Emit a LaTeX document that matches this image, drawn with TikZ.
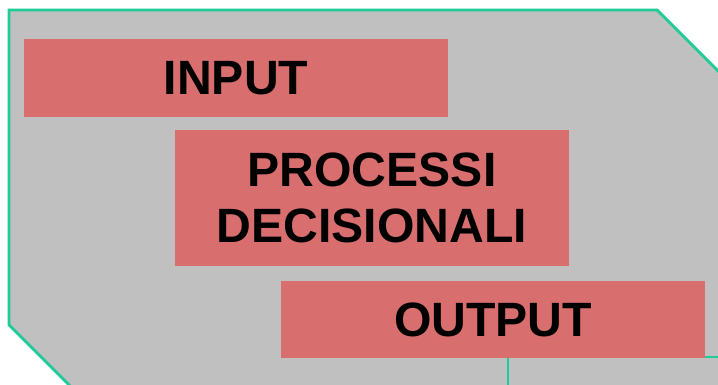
\documentclass[tikz,border=0pt]{standalone}
\usepackage{fontspec}
\setmainfont{Liberation Sans}
\definecolor{grigio}{HTML}{C0C0C0}
\definecolor{rosso}{HTML}{D86E6E}
\definecolor{verde}{HTML}{1FCB97}

\begin{document}
\begin{tikzpicture}
\tikzset{fase/.style={fill=rosso, rectangle, inner sep=0, align=center,
  minimum width=4.24cm, minimum height=.78cm,
  font=\bfseries\fontsize{13.7}{15.9}\selectfont}}

\clip (0,0) rectangle (7.18,3.85);
\fill[white] (0,0) rectangle (7.18,3.85);

% Outer panel
\filldraw[fill=grigio, draw=verde, line width=.8pt]
 (.09,3.75) -- (6.57,3.75) -- (7.40,2.92) -- (7.40,-.20) -- (.89,-.20)
 -- (.09,.60) -- cycle;

% Next panel, bottom right
\filldraw[fill=grigio, draw=verde, line width=.8pt]
 (5.08,.28) rectangle (7.40,-.20);

% Phases
\node[fase] (input) at (2.36,3.07) {INPUT};
\node[fase, minimum width=3.94cm, minimum height=1.36cm] (processi) at (3.72,1.87)
{PROCESSI\\DECISIONALI};
\node[fase, minimum height=.77cm] (output) at (4.93,.655) {OUTPUT};

\end{tikzpicture}
\end{document}
